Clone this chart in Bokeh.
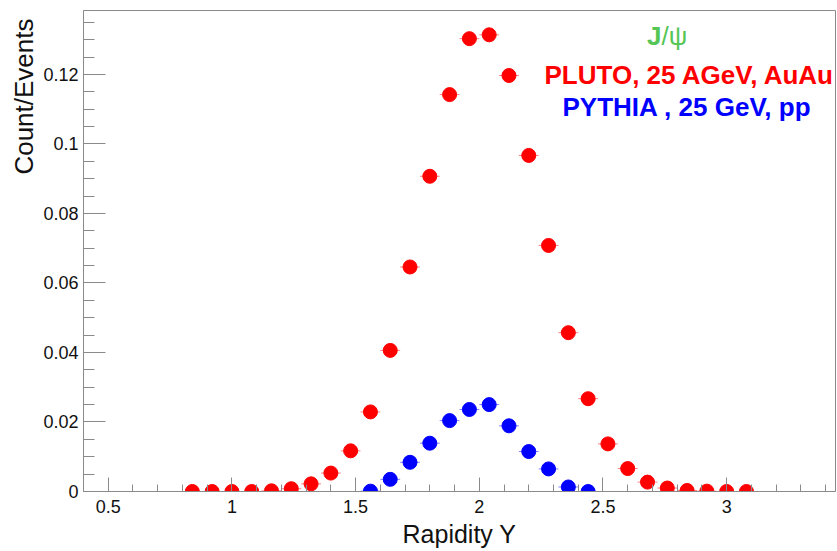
import math
from bokeh.plotting import figure
from bokeh.models import Range1d, SingleIntervalTicker, CustomJSTickFormatter, Label, ColumnDataSource, Title
from bokeh.embed import file_html
from bokeh.resources import INLINE

# ---- data ----
red_x = [0.84, 0.92, 1.00, 1.08, 1.16, 1.24, 1.32, 1.40, 1.48, 1.56, 1.64, 1.72, 1.80, 1.88,
         1.96, 2.04, 2.12, 2.20, 2.28, 2.36, 2.44, 2.52, 2.60, 2.68, 2.76, 2.84, 2.92, 3.00, 3.08]
red_y = [0.0, 0.0, 0.0, 0.0, 0.0002, 0.0008, 0.0022, 0.0053, 0.0117, 0.0229, 0.0406, 0.0646,
         0.0907, 0.1142, 0.1303, 0.1314, 0.1197, 0.0967, 0.0708, 0.0457, 0.0267, 0.0137, 0.0066,
         0.0027, 0.0010, 0.0003, 0.0001, 0.0, 0.0]
blue_x = [1.56, 1.64, 1.72, 1.80, 1.88, 1.96, 2.04, 2.12, 2.20, 2.28, 2.36, 2.44]
blue_y = [0.0001, 0.0035, 0.0084, 0.0139, 0.0204, 0.0236, 0.0250, 0.0189, 0.0115, 0.0065, 0.0013, 0.0]
bin_half = 0.04

x_title = "Rapidity Y"
y_title = "Count/Events"
leg_title_a = "J"
leg_title_b = "/ψ"
leg_red = "PLUTO, 25 AGeV, AuAu"
leg_blue = "PYTHIA , 25 GeV, pp"

FONT = "Liberation Sans"
GRAY = "#8a8a8a"

p = figure(width=837, height=551, output_backend="svg", toolbar_location=None,
           x_range=Range1d(0.4, 3.44), y_range=Range1d(0.0, 0.1384),
           min_border_left=83, min_border_right=2, min_border_top=10, min_border_bottom=60)
p.background_fill_color = "white"
p.border_fill_color = "white"
p.outline_line_color = GRAY
p.outline_line_width = 1
p.xgrid.visible = False
p.ygrid.visible = False

fmt = CustomJSTickFormatter(code="""
var s = tick.toFixed(4);
s = s.replace(/0+$/, '').replace(/\\.$/, '');
return s;
""")

xa = p.xaxis[0]
xa.ticker = SingleIntervalTicker(interval=0.5, num_minor_ticks=5)
xa.formatter = fmt
xa.axis_line_color = GRAY
xa.major_tick_line_color = GRAY
xa.minor_tick_line_color = GRAY
xa.major_tick_in = 14
xa.major_tick_out = 0
xa.minor_tick_in = 7
xa.minor_tick_out = 0
xa.major_label_text_font = FONT
xa.major_label_text_font_size = "18px"
xa.major_label_text_color = "#111111"
xa.major_label_standoff = 8
xa.axis_label = x_title
xa.axis_label_text_font = FONT
xa.axis_label_text_font_size = "25px"
xa.axis_label_text_font_style = "normal"
xa.axis_label_text_color = "#111111"
xa.axis_label_standoff = 4

ya = p.yaxis[0]
ya.ticker = SingleIntervalTicker(interval=0.02, num_minor_ticks=4)
ya.formatter = fmt
ya.axis_line_color = GRAY
ya.major_tick_line_color = GRAY
ya.minor_tick_line_color = GRAY
ya.major_tick_in = 22
ya.major_tick_out = 0
ya.minor_tick_in = 11
ya.minor_tick_out = 0
ya.major_label_text_font = FONT
ya.major_label_text_font_size = "18px"
ya.major_label_text_color = "#111111"
ya.major_label_standoff = 5

# y title toward the top of the axis (ROOT style)
p.add_layout(Title(text=y_title, align="right", offset=8, standoff=4,
                   text_font=FONT, text_font_size="26px", text_font_style="normal",
                   text_color="#111111"), "left")

def draw(xs, ys, color):
    src = ColumnDataSource(dict(x=xs, y=ys,
                                x0=[v - bin_half for v in xs], x1=[v + bin_half for v in xs]))
    p.segment(x0="x0", y0="y", x1="x1", y1="y", source=src, line_color=color,
              line_alpha=0.5, line_width=1)
    p.scatter(x="x", y="y", source=src, size=14, marker="circle",
              fill_color=color, line_color=color)

draw(red_x, red_y, "#ff0000")
draw(blue_x, blue_y, "#0000ff")

# legend texts
p.add_layout(Label(x=578, y=456, x_units="screen", y_units="screen", text=leg_title_a,
                   text_align="right", text_baseline="middle", text_font=FONT,
                   text_font_size="26px", text_font_style="bold", text_color="#55c655"))
p.add_layout(Label(x=578, y=456, x_units="screen", y_units="screen", text=leg_title_b,
                   text_align="left", text_baseline="middle", text_font=FONT,
                   text_font_size="26px", text_font_style="normal", text_color="#55c655"))
p.add_layout(Label(x=461, y=417, x_units="screen", y_units="screen", text=leg_red,
                   text_align="left", text_baseline="middle", text_font=FONT,
                   text_font_size="26px", text_font_style="bold", text_color="#ff0000"))
p.add_layout(Label(x=479, y=385, x_units="screen", y_units="screen", text=leg_blue,
                   text_align="left", text_baseline="middle", text_font=FONT,
                   text_font_size="26px", text_font_style="bold", text_color="#0000ff"))

open("out.html", "w").write(file_html(p, INLINE))
